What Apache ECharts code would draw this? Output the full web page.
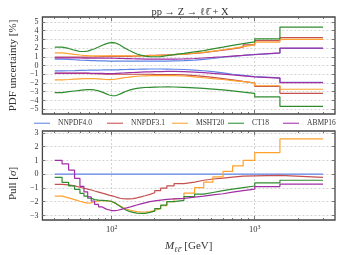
<!DOCTYPE html>
<html><head><meta charset="utf-8">
<script src="https://cdn.jsdelivr.net/npm/echarts@6/dist/echarts.min.js"></script>
<style>html,body{margin:0;padding:0;background:#fff}#c{width:339px;height:255px}</style>
</head><body><div id="c"></div>
<script>
// ---- data ----
const massEdges = [40,45,50,55,60,64,68,72,76,81,86,91,96,101,106,110,115,120,126,133,141,150,160,171,185,200,220,243,273,320,380,440,510,600,700,830,1000,1500,3000];
const pdfNames = ['NNPDF4.0','NNPDF3.1','MSHT20','CT18','ABMP16'];
const xMajorTicks = [100, 1000];
const xMinorTicks = [40,50,60,70,80,90,200,300,400,500,600,700,800,900,2000,3000];
const yTopTicks = [-5,-4,-3,-2,-1,0,1,2,3,4,5];
const yPullTicks = [-3,-2,-1,0,1,2,3];

// PDF uncertainty [%] (upper / lower edges per bin)
const nnpdf40Up = [0.72,0.70,0.66,0.62,0.60,0.58,0.56,0.55,0.54,0.53,0.52,0.51,0.50,0.50,0.50,0.50,0.50,0.50,0.50,0.50,0.50,0.50,0.50,0.50,0.50,0.50,0.51,0.53,0.56,0.62,0.70,0.80,0.95,1.05,1.15,1.25,1.42,1.95];
const nnpdf40Dn = [-0.62,-0.60,-0.58,-0.56,-0.55,-0.54,-0.53,-0.52,-0.52,-0.51,-0.50,-0.50,-0.50,-0.50,-0.49,-0.48,-0.47,-0.46,-0.45,-0.44,-0.43,-0.42,-0.41,-0.40,-0.40,-0.40,-0.41,-0.43,-0.46,-0.52,-0.60,-0.70,-0.85,-1.00,-1.12,-1.27,-1.42,-1.92];
const nnpdf31Up = [0.95,0.95,0.95,0.95,0.95,0.96,0.97,0.98,1.00,1.02,1.03,1.05,1.05,1.05,1.05,1.05,1.05,1.05,1.05,1.06,1.07,1.10,1.12,1.15,1.17,1.20,1.22,1.25,1.30,1.38,1.48,1.60,1.75,1.90,2.10,2.35,2.85,3.20];
const nnpdf31Dn = [-0.90,-0.90,-0.90,-0.90,-0.90,-0.91,-0.92,-0.93,-0.95,-0.97,-0.98,-1.00,-1.00,-1.00,-1.00,-1.00,-1.00,-1.00,-1.00,-1.00,-1.00,-1.00,-1.00,-1.00,-1.02,-1.03,-1.04,-1.05,-1.08,-1.15,-1.25,-1.35,-1.50,-1.65,-1.82,-2.00,-2.40,-3.18];
const msht20Up = [1.45,1.35,1.27,1.20,1.15,1.12,1.10,1.10,1.10,1.10,1.10,1.10,1.10,1.10,1.10,1.10,1.10,1.10,1.10,1.10,1.10,1.10,1.10,1.12,1.14,1.17,1.20,1.24,1.30,1.40,1.50,1.65,1.80,1.95,2.15,2.35,2.68,2.98];
const msht20Dn = [-1.65,-1.60,-1.55,-1.52,-1.50,-1.50,-1.50,-1.50,-1.53,-1.57,-1.60,-1.62,-1.60,-1.56,-1.52,-1.47,-1.42,-1.37,-1.32,-1.27,-1.23,-1.20,-1.18,-1.16,-1.15,-1.15,-1.15,-1.17,-1.20,-1.30,-1.40,-1.50,-1.60,-1.72,-1.85,-2.00,-2.32,-2.72];
const ct18Up = [2.10,1.95,1.75,1.60,1.60,1.65,1.78,1.92,2.12,2.32,2.48,2.58,2.62,2.58,2.48,2.32,2.12,1.92,1.72,1.52,1.32,1.18,1.08,1.02,1.00,1.02,1.12,1.25,1.38,1.55,1.70,1.90,2.10,2.30,2.50,2.70,3.05,4.40];
const ct18Dn = [-3.10,-3.00,-2.92,-2.85,-2.80,-2.77,-2.76,-2.80,-2.90,-3.05,-3.22,-3.38,-3.46,-3.46,-3.38,-3.25,-3.10,-2.95,-2.82,-2.70,-2.62,-2.56,-2.52,-2.50,-2.48,-2.46,-2.45,-2.46,-2.50,-2.55,-2.62,-2.70,-2.80,-2.90,-3.05,-3.20,-3.60,-4.68];
const abmp16Up = [0.88,0.88,0.87,0.86,0.85,0.85,0.85,0.85,0.85,0.85,0.85,0.85,0.84,0.83,0.82,0.81,0.80,0.79,0.78,0.77,0.76,0.75,0.74,0.73,0.72,0.72,0.72,0.73,0.75,0.80,0.86,0.92,1.00,1.08,1.16,1.26,1.44,1.98];
const abmp16Dn = [-0.88,-0.88,-0.88,-0.88,-0.88,-0.88,-0.89,-0.90,-0.90,-0.91,-0.92,-0.92,-0.92,-0.91,-0.90,-0.88,-0.86,-0.84,-0.82,-0.80,-0.78,-0.76,-0.74,-0.72,-0.70,-0.69,-0.68,-0.68,-0.69,-0.75,-0.82,-0.90,-0.98,-1.08,-1.18,-1.30,-1.44,-1.95];

// Pull [sigma]
const nnpdf40Pull = [0,0,0,0,0,0,0,0,0,0,0,0,0,0,0,0,0,0,0,0,0,0,0,0,0,0,0,0,0,0,0,0,0,0,0,0,0,0];
const nnpdf31Pull = [-0.74,-0.78,-0.85,-0.95,-1.02,-1.08,-1.15,-1.22,-1.30,-1.38,-1.45,-1.52,-1.58,-1.64,-1.70,-1.75,-1.78,-1.80,-1.80,-1.78,-1.72,-1.65,-1.57,-1.47,-1.35,-1.20,-1.02,-0.85,-0.69,-0.58,-0.44,-0.35,-0.28,-0.21,-0.14,-0.12,-0.09,-0.23];
const msht20Pull = [-1.60,-1.72,-1.85,-1.97,-2.05,-2.10,-2.08,-2.00,-1.95,-1.92,-1.92,-1.95,-2.00,-2.10,-2.20,-2.32,-2.42,-2.52,-2.60,-2.67,-2.72,-2.75,-2.75,-2.72,-2.62,-2.50,-2.28,-2.00,-1.78,-1.37,-0.97,-0.58,-0.20,0.20,0.60,1.00,1.57,2.57];
const ct18Pull = [-0.23,-0.60,-0.85,-1.10,-1.40,-1.60,-1.75,-1.85,-1.88,-1.90,-1.92,-1.95,-2.00,-2.10,-2.22,-2.35,-2.48,-2.60,-2.70,-2.78,-2.83,-2.85,-2.85,-2.78,-2.68,-2.50,-2.25,-2.00,-1.90,-1.62,-1.45,-1.33,-1.20,-1.09,-0.97,-0.86,-0.63,-0.44];
const abmp16Pull = [1.00,0.75,0.30,-0.30,-0.88,-1.28,-1.65,-1.95,-2.20,-2.38,-2.52,-2.60,-2.65,-2.65,-2.62,-2.58,-2.52,-2.46,-2.40,-2.32,-2.24,-2.16,-2.08,-2.00,-1.94,-1.88,-1.83,-1.80,-1.76,-1.67,-1.60,-1.50,-1.42,-1.30,-1.20,-1.09,-0.90,-0.72];

// ---- styling ----
const colors = {'NNPDF4.0':'#5f84e6','NNPDF3.1':'#c4504f','MSHT20':'#ffa22e','CT18':'#2f8c2f','ABMP16':'#9f2fa3'};
const SERIF = 'Liberation Serif, DejaVu Serif, serif';
const TXT = '#333';
const lg = v => Math.log10(v);
const xMin = lg(32.8), xMax = lg(3640);
const minusFmt = v => { const r = Math.round(v); return r < 0 ? '\u2212' + Math.abs(r) : '' + r; };

function stepData(vals) {
  const d = vals.map((v, i) => [lg(massEdges[i]), v]);
  d.push([lg(massEdges[massEdges.length - 1]), vals[vals.length - 1]]);
  return d;
}

const grids = [
  {left: 35, right: 4, top: 17, height: 97, show: true, borderColor: '#444', borderWidth: 1.3, backgroundColor: 'transparent'},
  {left: 35, right: 4, top: 131, height: 93, show: true, borderColor: '#444', borderWidth: 1.3, backgroundColor: 'transparent'}
];

const tickStyle = {color: '#555', width: 0.8};
const xAxes = [];
const yAxes = [];
[0, 1].forEach(g => {
  const base = {type: 'value', gridIndex: g, min: xMin, max: xMax, axisLine: {show: false, onZero: false}, splitLine: {show: false}, axisLabel: {show: false}};
  ['bottom', 'top'].forEach(pos => {
    xAxes.push(Object.assign({}, base, {position: pos,
      axisTick: {show: true, inside: true, length: 2, customValues: xMinorTicks.map(lg), lineStyle: tickStyle}}));
  });
  xAxes.push(Object.assign({}, base, {position: 'top',
    axisTick: {show: true, inside: true, length: 4, customValues: xMajorTicks.map(lg), lineStyle: tickStyle}}));
  xAxes.push(Object.assign({}, base, {position: 'bottom',
    axisTick: {show: true, inside: true, length: 4, customValues: xMajorTicks.map(lg), lineStyle: tickStyle},
    splitLine: {show: true, lineStyle: {color: '#c8c8c8', type: [2, 2], width: 0.8}},
    axisLabel: g === 1 ? {show: true, customValues: xMajorTicks.map(lg), margin: 4, color: TXT, fontFamily: SERIF,
      showMinLabel: true, showMaxLabel: true,
      formatter: v => '{b|10}{s|' + Math.round(v) + '}',
      rich: {b: {fontSize: 8.5, fontFamily: SERIF, color: TXT}, s: {fontSize: 6, fontFamily: SERIF, color: TXT, padding: [0, 0, 5, 0]}}} : {show: false},
    name: g === 1 ? '{it|M}{sub|\u2113\u2113\u0304}{sp| }{n|[GeV]}' : '',
    nameLocation: 'middle', nameGap: 19,
    nameTextStyle: {rich: {
      it: {fontSize: 11, fontStyle: 'italic', fontFamily: SERIF, color: TXT},
      sub: {fontSize: 7.5, fontStyle: 'italic', fontFamily: SERIF, color: TXT, padding: [7, 0, 0, 0]},
      sp: {width: 4},
      n: {fontSize: 11, fontFamily: SERIF, color: TXT}}}
  }));
  const ticks = g === 0 ? yTopTicks : yPullTicks;
  const ymin = g === 0 ? -5.55 : -3.33, ymax = g === 0 ? 5.55 : 3.14;
  yAxes.push({type: 'value', gridIndex: g, min: ymin, max: ymax, position: 'left',
    axisLine: {show: false, onZero: false},
    axisTick: {show: true, inside: true, length: 3, customValues: ticks, lineStyle: tickStyle},
    axisLabel: {show: true, customValues: ticks, formatter: minusFmt, margin: 4, fontSize: 8, lineHeight: 7, fontFamily: SERIF, color: TXT,
      showMinLabel: true, showMaxLabel: true, hideOverlap: false},
    splitLine: {show: true, lineStyle: {color: '#c8c8c8', type: [2, 2], width: 0.8}},
    name: g === 0 ? 'PDF uncertainty [%]' : '{n|Pull [}{s|\u03c3}{n|]}',
    nameLocation: 'middle', nameRotate: 90, nameGap: 19,
    nameTextStyle: g === 0 ? {fontSize: 11, fontFamily: SERIF, color: TXT} :
      {padding: [0, 16, 0, 0], rich: {n: {fontSize: 11, fontFamily: SERIF, color: TXT}, s: {fontSize: 11, fontStyle: 'italic', fontFamily: SERIF, color: TXT}}}
  });
  yAxes.push({type: 'value', gridIndex: g, min: ymin, max: ymax, position: 'right',
    axisLine: {show: false, onZero: false},
    axisTick: {show: true, inside: true, length: 3, customValues: ticks, lineStyle: tickStyle},
    axisLabel: {show: false}, splitLine: {show: false}
  });
});

const topSets = [[nnpdf40Up, nnpdf40Dn], [nnpdf31Up, nnpdf31Dn], [msht20Up, msht20Dn], [ct18Up, ct18Dn], [abmp16Up, abmp16Dn]];
const pullSets = [nnpdf40Pull, nnpdf31Pull, msht20Pull, ct18Pull, abmp16Pull];

const series = [];
pdfNames.forEach((name, k) => {
  topSets[k].forEach(vals => {
    series.push({name, type: 'line', step: 'end', xAxisIndex: 3, yAxisIndex: 0, data: stepData(vals),
      symbol: 'none', color: colors[name], lineStyle: {width: 1.2, color: colors[name]}, silent: true});
  });
});
pdfNames.forEach((name, k) => {
  series.push({name, type: 'line', step: 'end', xAxisIndex: 7, yAxisIndex: 2, data: stepData(pullSets[k]),
    symbol: 'none', color: colors[name], lineStyle: {width: 1.2, color: colors[name]}, silent: true});
});

const legendLeft = [34, 107, 172, 228, 283];
const legends = pdfNames.map((name, k) => ({
  data: [{name, icon: 'rect'}], left: legendLeft[k], top: 119.3, itemWidth: 16, itemHeight: 1.4, itemGap: 0, padding: 0,
  itemStyle: {opacity: 0.75},
  textStyle: {fontSize: 7.5, fontFamily: SERIF, color: TXT, padding: [0, 0, 0, 3]}, selectedMode: false
}));

const chart = echarts.init(document.getElementById('c'), null, {renderer: 'canvas'});
chart.setOption({
  animation: false,
  backgroundColor: '#fff',
  title: {text: 'pp \u2192 Z \u2192 \u2113\u2113\u0304 + X', left: 185, textAlign: 'center', top: 2,
    textStyle: {fontSize: 10.5, fontWeight: 'normal', fontFamily: SERIF, color: TXT}},
  grid: grids,
  xAxis: xAxes,
  yAxis: yAxes,
  legend: legends,
  series
});
</script>
</body></html>
